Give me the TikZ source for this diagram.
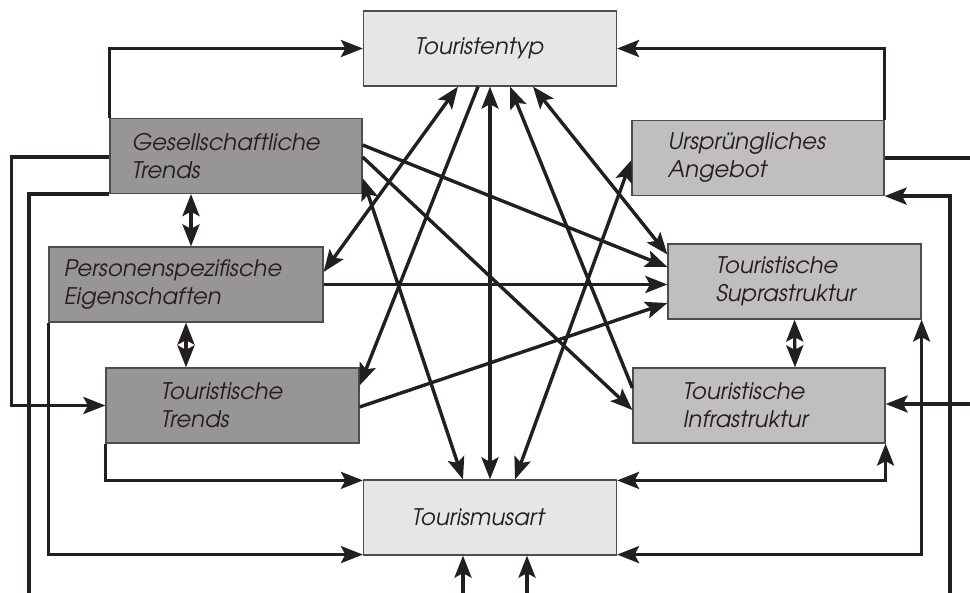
\documentclass[tikz,border=0pt]{standalone}
\usepackage{fontspec}
\setmainfont{texgyreadventor}[Extension=.otf,UprightFont=*-regular,ItalicFont=*-italic,BoldFont=*-bold,BoldItalicFont=*-bolditalic]
\usetikzlibrary{arrows.meta,calc}

\definecolor{ink}{HTML}{231F20}
\definecolor{frame}{HTML}{4D4D4D}
\definecolor{darkfill}{HTML}{979597}
\definecolor{midfill}{HTML}{C0BEC0}
\definecolor{lightfill}{HTML}{E6E6E6}

\tikzset{
  >={Stealth[length=22pt,width=17pt,inset=4.5pt]},
  box/.style={draw=frame,line width=1.2pt,minimum width=253pt,minimum height=75pt,
    inner sep=0pt,align=left,text=ink,font=\fontsize{22.8}{28}\selectfont\itshape},
  wire/.style={draw=ink,line width=3.4pt},
}

\begin{document}
\begin{tikzpicture}[x=1pt,y=1pt]
  \useasboundingbox (0,0) rectangle (970,-593);
  % Top and bottom
  \node[box,fill=lightfill,text width=150pt] (typ) at (490,-48.5) {Touristentyp};
  \node[box,fill=lightfill,text width=156pt] (art) at (490,-517.5) {Tourismusart};
  % Left column
  \node[box,fill=darkfill,minimum width=252pt,text width=208pt] (ges) at (236,-156) {Gesellschaftliche\\Trends};
  \node[box,fill=darkfill,minimum width=274pt,text width=244pt] (pers) at (186,-284.5) {Personenspezifische\\Eigenschaften};
  \node[box,fill=darkfill,text width=143pt] (ttr) at (232.5,-405.5) {Touristische\\Trends};
  % Right column
  \node[box,fill=midfill,minimum width=252pt,text width=180pt] (urs) at (758,-158) {Ursprüngliches\\Angebot};
  \node[box,fill=midfill,text width=157pt] (sup) at (794.5,-281.5) {Touristische\\Suprastruktur};
  \node[box,fill=midfill,minimum width=252pt,text width=152pt] (inf) at (759,-405.5) {Touristische\\Infrastruktur};
  % Loose ends at the border
  \coordinate (outL) at (29,-593);
  \coordinate (outR) at (970,-158);
  \coordinate (inR) at (950,-593);
  \coordinate (inI) at (970,-404);
  \coordinate (inA) at (463,-593);
  \coordinate (inB) at (527,-593);

  % Outer frame of connections
  \draw[wire,->] (ges.north west) |- (typ.west);
  \draw[wire,->] (urs.north east) |- (typ.east);
  \draw[wire,->] ([yshift=-1]ges.west) -- ++(-98,0) |- (ttr.west);
  \draw[wire] (ges.south west) -| (outL);
  \draw[wire,->] (pers.south west) |- ([yshift=1]art.south west);
  \draw[wire,->] (ttr.south west) |- ([yshift=-1]art.north west);
  \draw[wire] (urs.east) -- (outR);
  \draw[wire,->] (inR) |- (urs.south east);
  \draw[wire,->] (inI) -- (inI -| inf.east);
  \draw[wire,<->] (sup.south east) |- ([yshift=1]art.south east);
  \draw[wire,<->] (inf.south east) |- ([yshift=-1]art.north east);
  \draw[wire,->] (inA) -- (inA |- art.south);
  \draw[wire,->] (inB) -- (inB |- art.south);

  % Neighbours in a column
  \draw[wire,<->] ([xshift=-45]ges.south) -- ([xshift=5]pers.north);
  \draw[wire,<->] (pers.south) -- ([xshift=-46.5]ttr.north);
  \draw[wire,<->] (sup.south) -- ([xshift=36]inf.north);

  % Crossing links
  \draw[wire,<->] ([xshift=-32]typ.south) -- ([yshift=12.5]pers.east);
  \draw[wire,->] ([xshift=-12]typ.south) -- ([yshift=20]ttr.east);
  \draw[wire,<->] (typ.south) -- (art.north);
  \draw[wire,->] ([yshift=17.5]inf.west) -- ([xshift=20]typ.south);
  \draw[wire,<->] ([xshift=43]typ.south) -- ([yshift=27]sup.west);
  \draw[wire,->] ([yshift=11]ges.east) -- ([yshift=14.5]sup.west);
  \draw[wire,->] ([yshift=-1]ges.east) -- ([yshift=-4.5]inf.west);
  \draw[wire,<->] ([yshift=-22]ges.east) -- ([xshift=-27]art.north);
  \draw[wire,<->] ([yshift=-2]urs.west) -- ([xshift=25]art.north);
  \draw[wire,->] (pers.east) -- (pers.east -| sup.west);
  \draw[wire,->] ([yshift=-1.5]ttr.east) -- ([yshift=-21.5]sup.west);
\end{tikzpicture}
\end{document}
